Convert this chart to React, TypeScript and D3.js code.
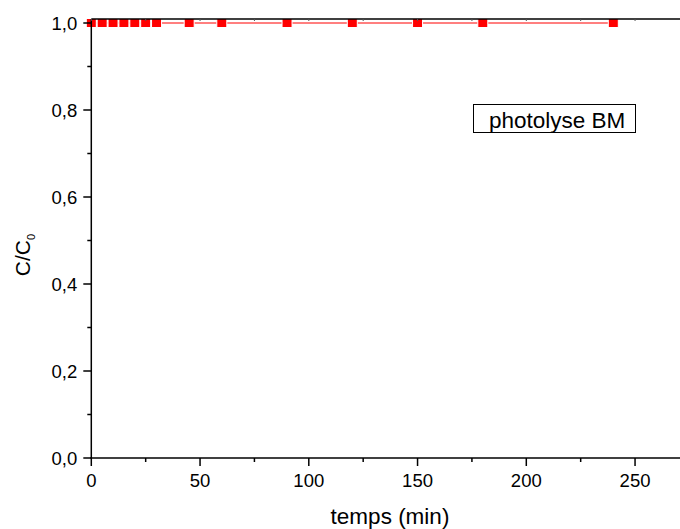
import React from "react";
import * as d3 from "d3";

const times = [0, 5, 10, 15, 20, 25, 30, 45, 60, 90, 120, 150, 180, 240];
const ratios = [1, 1, 1, 1, 1, 1, 1, 1, 1, 1, 1, 1, 1, 1];
const xTicks = [0, 50, 100, 150, 200, 250];
const xMinor = [25, 75, 125, 175, 225, 275];
const yTicks = [0, 0.2, 0.4, 0.6, 0.8, 1.0];
const yMinor = [0.1, 0.3, 0.5, 0.7, 0.9];
const legendLabel = "photolyse BM";

const W = 680, H = 529;
const left = 91.3, top = 19, bottom = 458;

export default function App() {
  const x = d3.scaleLinear().domain([0, 275]).range([left, left + 275 * 2.175]);
  const y = d3.scaleLinear().domain([0, 1.0092]).range([bottom, top]);
  const right = x(275);
  const fmt = (v: number) => v.toFixed(1).replace(".", ",");
  const line = d3.line<number>().x((_, i) => x(times[i])).y((d) => y(d));
  const font = "'Liberation Sans', Arial, sans-serif";
  return (
    <svg width={W} height={H} style={{ position: "absolute", left: 0, top: 0 }} fontFamily={font}>
      <rect width={W} height={H} fill="white" />
      {/* data line */}
      <path d={line(ratios) || ""} fill="none" stroke="#ff0000" strokeOpacity={0.5} strokeWidth={1.8} />
      {times.map((t, i) => (
        <rect key={i} x={x(t) - 5} y={y(ratios[i]) - 4.5} width={10} height={9} fill="#ff0000" stroke="white" strokeWidth={1} />
      ))}
      {/* axes lines */}
      <line x1={left} x2={left} y1={top} y2={bottom} stroke="black" strokeWidth={1.5} />
      <line x1={left - 1} x2={right} y1={bottom} y2={bottom} stroke="black" strokeWidth={1.5} />
      <line x1={left} x2={right} y1={top} y2={top} stroke="black" strokeWidth={1.5} />
      {/* top ticks */}
      {[...xTicks, ...xMinor].map((v) => (
        <line key={"t" + v} x1={x(v)} x2={x(v)} y1={top} y2={top + 2} stroke="#555" strokeWidth={1} />
      ))}
      {/* x ticks */}
      {xTicks.map((v) => (
        <g key={"x" + v}>
          <line x1={x(v)} x2={x(v)} y1={bottom} y2={bottom + 8} stroke="black" strokeWidth={1.5} />
          <text x={x(v)} y={bottom + 29} textAnchor="middle" fontSize={18.5}>{v}</text>
        </g>
      ))}
      {xMinor.map((v) => (
        <line key={"xm" + v} x1={x(v)} x2={x(v)} y1={bottom} y2={bottom + 4} stroke="black" strokeWidth={1.5} />
      ))}
      {/* y ticks */}
      {yTicks.map((v) => (
        <g key={"y" + v}>
          <line x1={left - 8} x2={left} y1={y(v)} y2={y(v)} stroke="black" strokeWidth={1.5} />
          <text x={left - 14} y={y(v) + 6.5} textAnchor="end" fontSize={18.5}>{fmt(v)}</text>
        </g>
      ))}
      {yMinor.map((v) => (
        <line key={"ym" + v} x1={left - 4} x2={left} y1={y(v)} y2={y(v)} stroke="black" strokeWidth={1.5} />
      ))}
      {/* axis titles */}
      <text x={390} y={524} textAnchor="middle" fontSize={22.5}>temps (min)</text>
      <g transform="translate(30,255) rotate(-90)">
        <text x={0} y={0} textAnchor="middle" fontSize={21}>
          C/C<tspan fontSize={11} dy={5}>0</tspan>
        </text>
      </g>
      {/* legend */}
      <rect x={473.5} y={104.5} width={162} height={28} fill="white" stroke="black" strokeWidth={1} />
      <text x={489} y={128} fontSize={22.5}>{legendLabel}</text>
    </svg>
  );
}
